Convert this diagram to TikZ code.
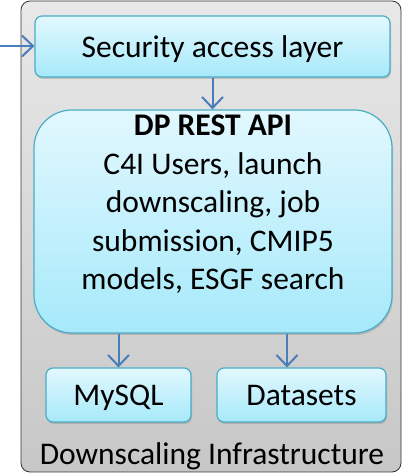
\documentclass[tikz,border=0pt]{standalone}
\usepackage{fontspec}
\setmainfont{Carlito}
\usepackage{tikz}
\usetikzlibrary{arrows,arrows.meta,positioning,shapes,shadows,calc}
\definecolor{boxline}{HTML}{4BACC6}
\definecolor{boxtop}{HTML}{E2F8FE}
\definecolor{boxbot}{HTML}{A6E9FA}
\definecolor{arrblue}{HTML}{4A7EBB}

\begin{document}
\begin{tikzpicture}[x=1pt,y=1pt,->,>={Straight Barb[length=11pt,width=21pt]},
	tier/.style={rectangle,rounded corners=7pt,draw=boxline,line width=1.2pt,
		top color=boxtop,bottom color=boxbot,inner sep=0pt,align=center,
		font=\fontsize{31.5}{38.5}\selectfont,
		drop shadow={opacity=0.35,shadow xshift=1pt,shadow yshift=-2pt}},
	oneline/.style={text depth=0pt},
	link/.style={color=arrblue,line width=2pt}]

	\useasboundingbox (0,0) rectangle (403,474);

	% outer container
	\node[rectangle,rounded corners=9pt,draw=black!80,line width=0.8pt,top color=black!9,
		bottom color=black!22,minimum width=380pt,minimum height=471pt] (infra) at (211,237.5) {};
	\node[font=\fontsize{31.5}{38.5}\selectfont,oneline] (infralbl) at (212,20) {Downscaling Infrastructure};

	\node[tier,oneline,minimum width=355pt,minimum height=61pt] (sec) at (212.5,427.5) {Security access layer};
	\node[tier,rounded corners=38pt,minimum width=358pt,minimum height=223pt] (api) at (213,252.5)
		{\textbf{DP REST API}\\C4I Users, launch\\downscaling, job\\submission, CMIP5\\models, ESGF search\\\mbox{}};
	\node[tier,oneline,minimum width=145pt,minimum height=54pt] (sql) at (118.5,79) {MySQL};
	\node[tier,oneline,minimum width=169pt,minimum height=54pt] (data) at (301.5,79) {Datasets};

	\coordinate (in) at (0,428);
	\coordinate (dcol) at (287,0);
	\path[link]
	(in) edge (sec.west |- in)
	(sec.south) edge (api.north -| sec.south)
	(api.south -| sql.north) edge (sql.north)
	(api.south -| dcol) edge (data.north -| dcol);

\end{tikzpicture}
\end{document}
